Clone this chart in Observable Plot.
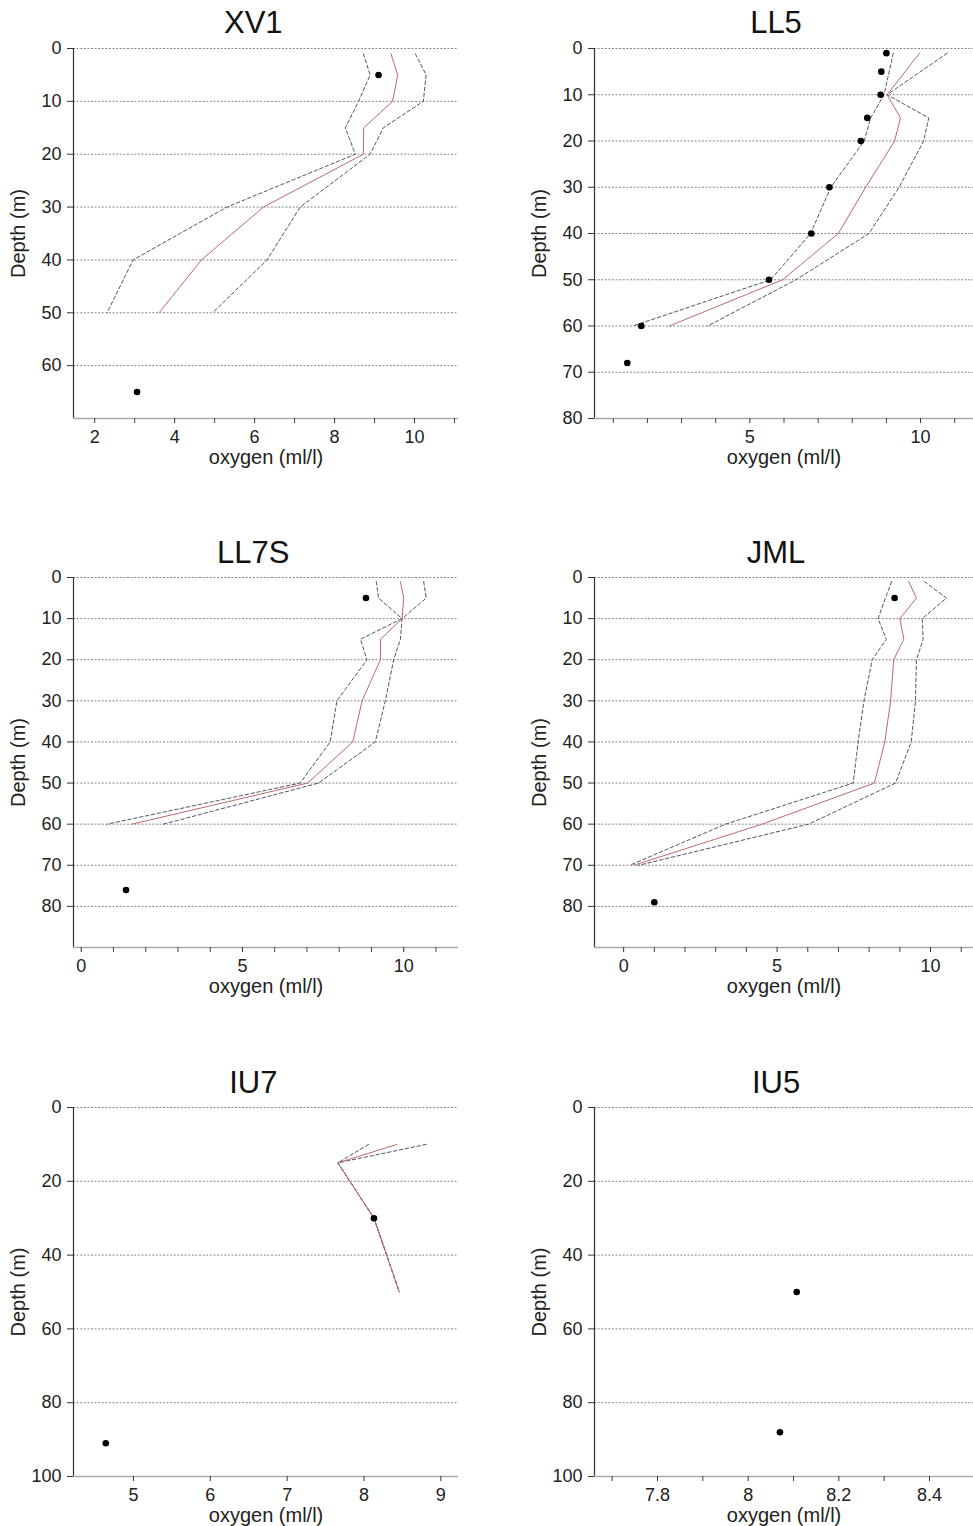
<!DOCTYPE html>
<html>
<head>
<meta charset="utf-8">
<script src="https://cdn.jsdelivr.net/npm/d3@7"></script>
<script src="https://cdn.jsdelivr.net/npm/@observablehq/plot@0.6"></script>
<style>
  html, body { margin: 0; padding: 0; background: #fff; }
  #root { position: relative; width: 973px; height: 1526px; overflow: hidden; }
  .panel { position: absolute; }
</style>
</head>
<body>
<div id="root"></div>
<script>
// ---------- Data ----------
const titles = ["XV1", "LL5", "LL7S", "JML", "IU7", "IU5"];

// XV1
const xv1Depth = [1, 5, 10, 15, 20, 30, 40, 50];
const xv1Mean  = [9.41, 9.58, 9.45, 8.73, 8.72, 6.22, 4.67, 3.61];
const xv1Lower = [8.72, 8.89, 8.60, 8.27, 8.52, 5.31, 2.96, 2.31];
const xv1Upper = [10.02, 10.29, 10.22, 9.22, 8.89, 7.14, 6.31, 4.95];
const xv1ObsX = [9.10, 3.06];
const xv1ObsDepth = [5, 65];

// LL5
const ll5Depth = [1, 10, 15, 20, 30, 40, 50, 60];
const ll5Mean  = [9.97, 9.02, 9.41, 9.24, 8.39, 7.59, 5.96, 2.64];
const ll5Lower = [9.20, 8.93, 8.54, 8.35, 7.37, 6.78, 5.61, 1.57];
const ll5Upper = [10.78, 9.02, 10.24, 10.09, 9.37, 8.49, 6.35, 3.76];
const ll5ObsX = [9.00, 8.85, 8.83, 8.44, 8.25, 7.33, 6.80, 5.56, 1.82, 1.41];
const ll5ObsDepth = [1, 5, 10, 15, 20, 30, 40, 50, 60, 68];

// LL7S
const ll7sDepth = [1, 5, 10, 15, 20, 30, 40, 50, 60];
const ll7sMean  = [9.90, 10.00, 9.95, 9.28, 9.28, 8.71, 8.42, 7.02, 1.57];
const ll7sLower = [9.15, 9.22, 9.95, 8.66, 8.86, 7.93, 7.72, 6.79, 0.80];
const ll7sUpper = [10.62, 10.70, 9.95, 9.90, 9.69, 9.43, 9.12, 7.36, 2.55];
const ll7sObsX = [8.83, 1.39];
const ll7sObsDepth = [5, 76];

// JML
const jmlDepth = [1, 5, 10, 15, 20, 30, 40, 50, 60, 70];
const jmlMean  = [9.29, 9.54, 9.00, 9.13, 8.80, 8.70, 8.51, 8.17, 4.51, 0.33];
const jmlLower = [8.73, 8.53, 8.29, 8.56, 8.10, 7.83, 7.64, 7.48, 3.32, 0.20];
const jmlUpper = [9.80, 10.52, 9.73, 9.76, 9.54, 9.51, 9.37, 8.86, 6.03, 0.49];
const jmlObsX = [8.83, 1.00];
const jmlObsDepth = [5, 79];

// IU7
const iu7Depth = [10, 15, 30, 50];
const iu7Mean  = [8.43, 7.66, 8.13, 8.46];
const iu7Lower = [8.06, 7.66, 8.13, 8.46];
const iu7Upper = [8.81, 7.66, 8.13, 8.46];
const iu7ObsX = [8.13, 4.64];
const iu7ObsDepth = [30, 91];

// IU5
const iu5Depth = [];
const iu5Mean  = [];
const iu5Lower = [];
const iu5Upper = [];
const iu5ObsX = [8.107, 8.07];
const iu5ObsDepth = [50, 88];

// Ticks
const xv1XTicks = [2, 4, 6, 8, 10];
const xv1XMinor = [3, 5, 7, 9, 11];
const ll5XTicks = [5, 10];
const ll5XMinor = [1, 2, 3, 4, 6, 7, 8, 9, 11];
const ll7sXTicks = [0, 5, 10];
const ll7sXMinor = [1, 2, 3, 4, 6, 7, 8, 9, 11];
const jmlXTicks = [0, 5, 10];
const jmlXMinor = [1, 2, 3, 4, 6, 7, 8, 9, 11];
const iu7XTicks = [5, 6, 7, 8, 9];
const iu7XMinor = [];
const iu5XTicks = [7.8, 8, 8.2, 8.4];
const iu5XMinor = [7.7, 7.9, 8.1, 8.3];

const yTicks60 = [0, 10, 20, 30, 40, 50, 60];
const yTicks80 = [0, 10, 20, 30, 40, 50, 60, 70, 80];
const yTicks100 = [0, 20, 40, 60, 80, 100];

// ---------- Panels ----------
const FONT = "'Liberation Sans', Arial, Helvetica, sans-serif";

const panels = [
  {title: titles[0], depth: xv1Depth, mean: xv1Mean, lower: xv1Lower, upper: xv1Upper, obsX: xv1ObsX, obsD: xv1ObsDepth,
   xDomain: [1.47, 11.1], yDomain: [0, 70], xTicks: xv1XTicks, xMinor: xv1XMinor, yTicks: yTicks60,
   left: 0, top: 0, width: 470, height: 470, ml: 73, mr: 12, mt: 48, mb: 52, col: 0},
  {title: titles[1], depth: ll5Depth, mean: ll5Mean, lower: ll5Lower, upper: ll5Upper, obsX: ll5ObsX, obsD: ll5ObsDepth,
   xDomain: [0.45, 11.55], yDomain: [0, 80], xTicks: ll5XTicks, xMinor: ll5XMinor, yTicks: yTicks80,
   left: 520, top: 0, width: 453, height: 470, ml: 74, mr: 0, mt: 48, mb: 52, col: 1},
  {title: titles[2], depth: ll7sDepth, mean: ll7sMean, lower: ll7sLower, upper: ll7sUpper, obsX: ll7sObsX, obsD: ll7sObsDepth,
   xDomain: [-0.24, 11.7], yDomain: [0, 90], xTicks: ll7sXTicks, xMinor: ll7sXMinor, yTicks: yTicks80,
   left: 0, top: 530, width: 470, height: 469, ml: 73, mr: 12, mt: 47, mb: 52, col: 0},
  {title: titles[3], depth: jmlDepth, mean: jmlMean, lower: jmlLower, upper: jmlUpper, obsX: jmlObsX, obsD: jmlObsDepth,
   xDomain: [-0.95, 11.4], yDomain: [0, 90], xTicks: jmlXTicks, xMinor: jmlXMinor, yTicks: yTicks80,
   left: 520, top: 530, width: 453, height: 469, ml: 74, mr: 0, mt: 47, mb: 52, col: 1},
  {title: titles[4], depth: iu7Depth, mean: iu7Mean, lower: iu7Lower, upper: iu7Upper, obsX: iu7ObsX, obsD: iu7ObsDepth,
   xDomain: [4.22, 9.23], yDomain: [0, 100], xTicks: iu7XTicks, xMinor: iu7XMinor, yTicks: yTicks100,
   left: 0, top: 1060, width: 470, height: 466, ml: 73, mr: 12, mt: 47, mb: 50, col: 0},
  {title: titles[5], depth: iu5Depth, mean: iu5Mean, lower: iu5Lower, upper: iu5Upper, obsX: iu5ObsX, obsD: iu5ObsDepth,
   xDomain: [7.661, 8.497], yDomain: [0, 100], xTicks: iu5XTicks, xMinor: iu5XMinor, yTicks: yTicks100,
   left: 520, top: 1060, width: 453, height: 466, ml: 74, mr: 0, mt: 47, mb: 50, col: 1}
];

const root = document.getElementById("root");

for (const p of panels) {
  const rows = (vals) => p.depth.map((d, i) => ({depth: d, value: vals[i]}));
  const obs = p.obsX.map((x, i) => ({depth: p.obsD[i], value: x}));
  const xFmt = (d) => String(d);

  const chart = Plot.plot({
    width: p.width,
    height: p.height,
    marginLeft: p.ml,
    marginRight: p.mr,
    marginTop: p.mt,
    marginBottom: p.mb,
    style: {fontFamily: FONT, fontSize: "17px", color: "#222", background: "#fff", overflow: "visible"},
    x: {domain: p.xDomain},
    y: {domain: p.yDomain, reverse: true},
    marks: [
      // dashed horizontal gridlines
      Plot.ruleY(p.yTicks, {stroke: "#666", strokeWidth: 0.8, strokeDasharray: "2,1.6"}),
      // axes lines
      Plot.ruleX([p.xDomain[0]], {stroke: "#333", strokeWidth: 1.2}),
      Plot.ruleY([p.yDomain[1]], {stroke: "#aaa", strokeWidth: 1.6}),
      Plot.axisY(p.yTicks, {tickSize: 6, tickPadding: 6, fontSize: 18, label: null, stroke: "#333", fill: "#222", tickFormat: xFmt}),
      Plot.axisX(p.xTicks, {tickSize: 5, tickPadding: 7, fontSize: 18, label: null, stroke: "#333", fill: "#222", tickFormat: xFmt}),
      Plot.axisX(p.xMinor, {tickSize: 5, tickFormat: () => "", label: null, stroke: "#444"}),
      // bounds and mean
      Plot.line(rows(p.lower), {x: "value", y: "depth", stroke: "#3f4257", strokeWidth: 0.9, strokeDasharray: "3.5,2.5"}),
      Plot.line(rows(p.upper), {x: "value", y: "depth", stroke: "#3f4257", strokeWidth: 0.9, strokeDasharray: "3.5,2.5"}),
      Plot.line(rows(p.mean), {x: "value", y: "depth", stroke: "#bb6a6a", strokeWidth: 1}),
      // observations
      Plot.dot(obs, {x: "value", y: "depth", r: 3.3, fill: "#000", stroke: "none"}),
      // texts
      Plot.text([p.title], {text: (d) => d, frameAnchor: "top", lineAnchor: "middle", textAnchor: "middle",
        dy: -(p.mt - 23), dx: p.col === 0 ? -12.7 : -8, fontSize: 31, fill: "#111"}),
      Plot.text(["oxygen (ml/l)"], {text: (d) => d, frameAnchor: "bottom", lineAnchor: "middle", textAnchor: "middle",
        dy: 39, fontSize: 20, fill: "#222"}),
      Plot.text(["Depth (m)"], {text: (d) => d, frameAnchor: "left", lineAnchor: "middle", textAnchor: "middle",
        dx: -55, rotate: -90, fontSize: 20, fill: "#222"})
    ]
  });
  const wrap = document.createElement("div");
  wrap.className = "panel";
  wrap.style.left = p.left + "px";
  wrap.style.top = p.top + "px";
  wrap.appendChild(chart);
  root.appendChild(wrap);
}
</script>
</body>
</html>
